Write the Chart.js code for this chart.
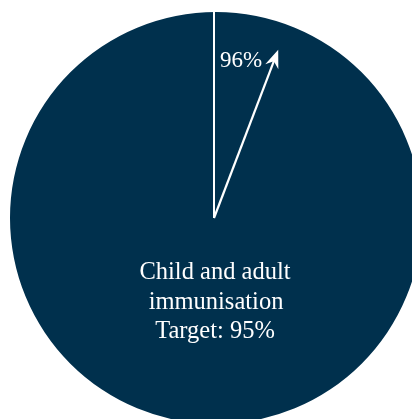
<!DOCTYPE html>
<html>
<head>
<meta charset="utf-8">
<script src="https://cdn.jsdelivr.net/npm/chart.js@4/dist/chart.umd.min.js"></script>
<style>
  html, body { margin: 0; padding: 0; background: #ffffff; overflow: hidden; }
  #wrap { position: absolute; left: 0; top: 0; width: 412px; height: 419px; }
</style>
</head>
<body>
<div id="wrap"><canvas id="c" width="412" height="419"></canvas></div>
<script>
const categories = ['Child and adult immunisation'];
const values = [96];
const targetLabel = 'Target: 95%';
const valueLabels = ['96%'];

const annotate = {
  id: 'annotate',
  afterDatasetsDraw(chart) {
    const arc = chart.getDatasetMeta(0).data[0];
    if (!arc) return;
    const ctx = chart.ctx;
    const cx = arc.x - 2, cy = arc.y;
    const r = arc.outerRadius;
    ctx.save();
    // vertical reference line
    ctx.strokeStyle = '#ffffff';
    ctx.lineWidth = 2;
    ctx.beginPath();
    ctx.moveTo(cx, cy);
    ctx.lineTo(cx, cy - r - 2);
    ctx.stroke();
    // arrow
    const ang = 20.9 * Math.PI / 180;
    const len = 180;
    const tx = cx + Math.sin(ang) * len, ty = cy - Math.cos(ang) * len;
    const ux = Math.sin(ang), uy = -Math.cos(ang);
    const headLen = 18, headW = 7;
    const bx = tx - ux * headLen, by = ty - uy * headLen;
    ctx.lineWidth = 2.2;
    ctx.beginPath();
    ctx.moveTo(cx, cy);
    ctx.lineTo(tx - ux * 6, ty - uy * 6);
    ctx.stroke();
    ctx.fillStyle = '#ffffff';
    ctx.beginPath();
    ctx.moveTo(tx, ty);
    ctx.lineTo(bx - uy * headW, by + ux * headW);
    ctx.lineTo(tx - ux * headLen * 0.68, ty - uy * headLen * 0.68);
    ctx.lineTo(bx + uy * headW, by - ux * headW);
    ctx.closePath();
    ctx.fill();
    // value label
    ctx.font = '23px "Liberation Serif", serif';
    ctx.textAlign = 'left';
    ctx.textBaseline = 'alphabetic';
    ctx.fillText(valueLabels[0], cx + 6, cy - 151);
    // category label
    ctx.textAlign = 'center';
    ctx.font = '24.5px "Liberation Serif", serif';
    const words = categories[0].split(' ');
    const line1 = words.slice(0, 3).join(' ');
    const line2 = words.slice(3).join(' ');
    ctx.fillText(line1, cx + 1, cy + 61);
    ctx.fillText(line2, cx + 2, cy + 91);
    ctx.fillText(targetLabel, cx + 1, cy + 120);
    ctx.restore();
  }
};

new Chart(document.getElementById('c'), {
  type: 'pie',
  data: {
    labels: categories,
    datasets: [{
      data: values,
      backgroundColor: ['#00304d'],
      borderWidth: 0,
      clip: false
    }]
  },
  options: {
    responsive: false,
    animation: false,
    radius: 206,
    layout: { padding: { left: 20, right: 0, top: 17, bottom: 0 } },
    plugins: {
      legend: { display: false },
      tooltip: { enabled: false }
    },
    events: []
  },
  plugins: [annotate]
});
</script>
</body>
</html>
